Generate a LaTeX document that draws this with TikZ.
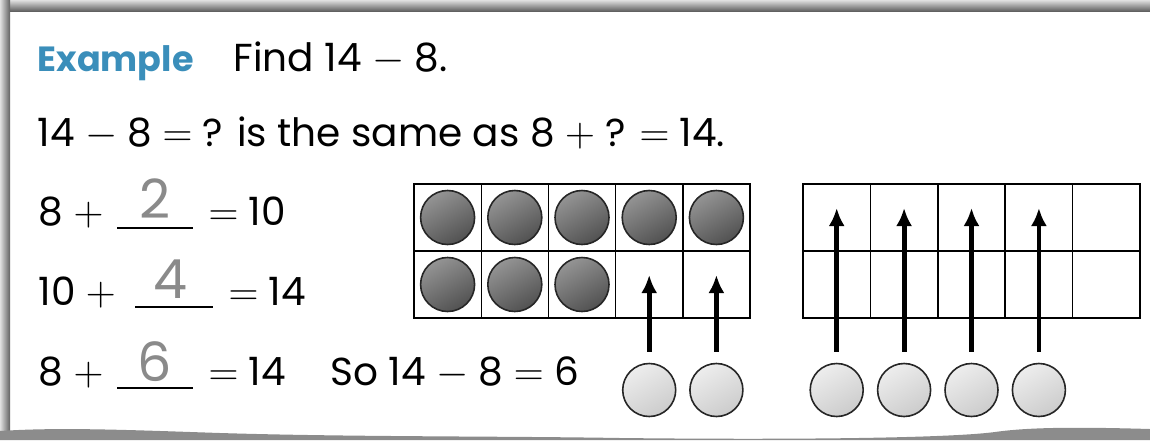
\documentclass[tikz,border=0pt]{standalone}
\usepackage{fontspec}
\setmainfont{Poppins}
\usetikzlibrary{arrows.meta, positioning, calc}
\definecolor{cblue}{HTML}{3A8EBA}
\definecolor{cgrey}{HTML}{8A8A8A}
\tikzset{
  every picture/.style={line width=0.6pt},
  txt/.style={anchor=base west, inner sep=0pt, font=\fontsize{19.5}{24}\selectfont},
  ans/.style={anchor=base, inner sep=0pt, text=cgrey, font=\fontsize{27}{30}\selectfont},
  cell/.style={draw=black, minimum size=33.6pt, inner sep=0pt, line width=0.7pt},
  dark/.style={circle, draw=black!85, line width=0.8pt, minimum size=27pt, inner sep=0pt,
    top color=black!42, bottom color=black!68, shading angle=30},
  light/.style={circle, draw=black!85, line width=0.8pt, minimum size=26.5pt, inner sep=0pt,
    top color=black!7, bottom color=black!20, shading angle=30},
  push/.style={-{Latex[length=9pt, width=8pt]}, line width=2.4pt, shorten <=5.5pt},
}
\begin{document}
\begin{tikzpicture}[x=0.5pt, y=-0.5pt]
  \useasboundingbox (0,0) rectangle (1150,440);
  % page edge
  \shade[top color=black!12, bottom color=black!62] (0,0) rectangle (1150,11);
  \shade[left color=black!12, right color=black!62] (0,0) rectangle (10,434);
  \fill[black!45] (0,440) -- (0,431) .. controls (60,427) and (130,430) .. (220,433)
    .. controls (350,437) and (500,436) .. (620,438) .. controls (800,440) and (950,438) .. (995,432)
    .. controls (1030,427) and (1080,427) .. (1150,429) -- (1150,440) -- cycle;

  % text lines
  \node[txt, text=cblue, font=\fontsize{17.5}{22}\selectfont\bfseries] (ex) at (37,71) {Example};
  \node[txt] (find) at (233,71) {Find 14 $-$ 8.};
  \node[txt] (same) at (37,146) {14 $-$ 8 $=$ ? is the same as 8 $+$ ? $=$ 14.};

  % equations with blanks
  \node[txt] (e1) at (38,225) {8 $+$};
  \draw (117,228) -- (193,228);
  \node[ans] (a1) at (155,218) {2};
  \node[txt] (r1) at (208,225) {$=$ 10};
  \node[txt] (e2) at (38,305) {10 $+$};
  \draw (135,307) -- (213,307);
  \node[ans] (a2) at (170,298) {4};
  \node[txt] (r2) at (228,305) {$=$ 14};
  \node[txt] (e3) at (38,385) {8 $+$};
  \draw (117,388) -- (193,388);
  \node[ans] (a3) at (155,381) {6};
  \node[txt] (r3) at (208,385) {$=$ 14};
  \node[txt] (so) at (330,385) {So 14 $-$ 8 $=$ 6};

  % ten frames
  \foreach \c in {1,...,5} {
    \foreach \r in {1,2} {
      \node[cell] (p\c\r) at (414+67.2*\c-33.6, 184+67*\r-33.5) {};
      \node[cell] (q\c\r) at (803+67.4*\c-33.7, 184+67*\r-33.5) {};
    }
  }
  \foreach \c in {1,...,5} \node[dark] at (p\c1) {};
  \foreach \c in {1,2,3} \node[dark] at (p\c2) {};

  % counters to add
  \foreach \c in {4,5} {
    \node[light] (k\c) at (p\c2 |- 0,390) {};
    \draw[push] (k\c.north) -- ([yshift=4.75pt]p\c2.center);
  }
  \foreach \c in {1,...,4} {
    \node[light] (m\c) at (q\c1 |- 0,390) {};
    \draw[push] (m\c.north) -- ([yshift=4.75pt]q\c1.center);
  }
\end{tikzpicture}
\end{document}
